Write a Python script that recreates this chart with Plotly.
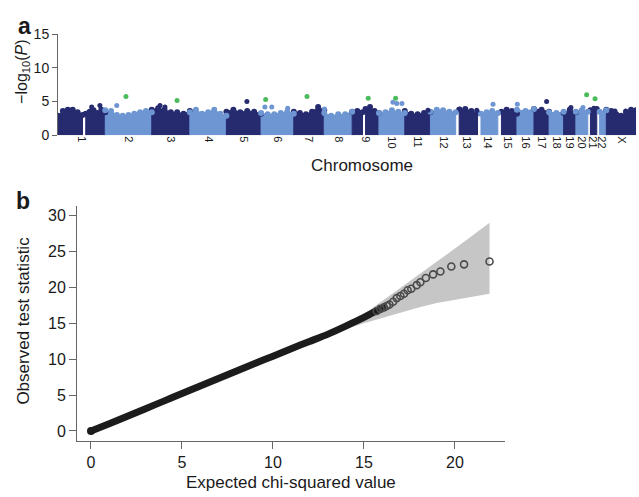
import plotly.graph_objects as go
import numpy as np

W, H = 639, 497
FONT = "Liberation Sans, Arial, Helvetica, sans-serif"

# ---------------- Panel a: Manhattan plot data ----------------
CHROMS = ["1", "2", "3", "4", "5", "6", "7", "8", "9", "10", "11", "12",
          "13", "14", "15", "16", "17", "18", "19", "20", "21", "22", "X"]
CHROM_LEN = [247, 243, 199, 191, 181, 171, 159, 146, 140, 135, 134, 132,
             114, 106, 100, 89, 79, 76, 64, 62, 47, 50, 155]  # Mb

# data segments (start, end in Mb within chromosome)
SEGMENTS = [
    [(0, 128), (145, 247)], [(0, 243)], [(0, 199)], [(0, 191)], [(0, 181)],
    [(0, 171)], [(0, 159)], [(0, 146)], [(0, 54), (70, 140)], [(0, 135)],
    [(0, 134)], [(0, 132)], [(18, 114)], [(18, 106)], [(19, 100)], [(0, 89)],
    [(0, 79)], [(0, 76)], [(0, 64)], [(0, 62)], [(14, 47)], [(15, 50)], [(0, 155)],
]
# upper envelope of the dense point cloud (-log10 P), evenly spaced per segment
ENVELOPES = [
    [[2.9, 3.6, 3.8, 3.8, 3.4, 3.0], [3.2, 3.5, 3.7, 3.3, 3.8, 3.4]],
    [[3.7, 3.6, 3.0, 2.9, 3.0, 3.2, 3.4, 3.6, 3.4]],
    [[3.8, 4.0, 3.8, 3.4, 3.4, 3.2, 3.6]],
    [[3.4, 3.8, 3.2, 3.4, 3.8, 3.2, 2.9]],
    [[3.5, 3.8, 3.4, 3.6, 3.5, 3.2]],
    [[3.3, 3.1, 3.1, 3.3, 3.5, 3.2]],
    [[3.5, 3.3, 3.1, 3.5, 4.2, 3.7]],
    [[3.3, 2.9, 3.1, 3.1, 3.5]],
    [[3.5, 3.6, 3.4], [3.9, 4.2, 3.6, 3.3]],
    [[3.3, 3.4, 3.7, 3.5, 3.3]],
    [[3.6, 3.2, 3.1, 3.3, 3.4]],
    [[3.5, 3.8, 3.7, 3.5, 3.4]],
    [[3.8, 3.9, 3.6, 3.3]],
    [[3.2, 3.4, 3.6, 3.3]],
    [[3.5, 3.8, 3.6, 3.2]],
    [[3.8, 3.6, 3.9]],
    [[3.9, 3.8, 3.5]],
    [[3.4, 3.3, 3.5]],
    [[3.3, 3.8, 3.4]],
    [[3.5, 3.7, 3.5]],
    [[3.7, 3.9]],
    [[3.5, 3.7]],
    [[3.8, 3.6, 3.1, 2.9, 3.4, 3.8, 3.7]],
]

# isolated points above the cloud
OUT_CHROM = ["1", "1", "2", "3", "3", "5", "6", "6", "6", "8", "10", "10", "10",
             "11", "13", "13", "14", "16", "17", "19", "20", "21", "X", "X"]
OUT_POS = [176, 219, 60, 43, 69, 107, 20, 56, 139, 1, 73, 93, 120,
           121, 22, 110, 81, 2, 66, 38, 37, 32, 45, 101]
OUT_LOGP = [4.2, 4.4, 4.4, 4.4, 4.2, 5.0, 4.2, 4.2, 4.0, 3.9, 4.9, 4.7, 4.7,
            3.7, 3.9, 3.7, 4.6, 4.6, 5.0, 4.1, 4.1, 4.0, 3.6, 3.6]

# highlighted (green) associations
HIT_CHROM = ["2", "3", "6", "7", "9", "10", "20", "21"]
HIT_POS = [108, 132, 24, 69, 84, 87, 56, 38]
HIT_LOGP = [5.75, 5.15, 5.3, 5.75, 5.5, 5.5, 6.0, 5.4]

# ---------------- Panel b: QQ plot data ----------------
QQ_LINE_EXP = [0, 1, 2, 3, 4, 5, 6, 7, 8, 9, 10, 11, 12, 13, 14, 15, 15.6, 16.2]
QQ_LINE_OBS = [0, 1.0, 2.05, 3.1, 4.15, 5.2, 6.25, 7.3, 8.35, 9.4, 10.4, 11.45,
               12.45, 13.45, 14.6, 15.8, 16.6, 17.3]
QQ_PT_EXP = [15.7, 15.9, 16.1, 16.25, 16.4, 16.6, 16.8, 17.0, 17.2, 17.4, 17.6,
             17.9, 18.1, 18.4, 18.8, 19.2, 19.8, 20.5, 21.9]
QQ_PT_OBS = [16.7, 17.0, 17.2, 17.4, 17.6, 18.0, 18.5, 18.8, 19.1, 19.6, 19.8,
             20.3, 20.7, 21.3, 21.8, 22.2, 22.9, 23.2, 23.6]
BAND_EXP = [12, 13, 14, 15, 16, 17, 18, 19, 20, 21, 21.9]
BAND_UPPER = [12.5, 13.8, 14.9, 16.3, 18.1, 19.9, 21.8, 23.6, 25.4, 27.3, 29.0]
BAND_LOWER = [11.9, 13.3, 14.2, 15.0, 15.8, 16.5, 17.2, 17.8, 18.3, 18.7, 19.1]

DARK = "#262a6f"
LIGHT = "#6e96d2"
GREEN = "#4cbb5c"

offsets = np.concatenate([[0], np.cumsum(CHROM_LEN)[:-1]])
mids = offsets + np.array(CHROM_LEN) / 2.0
chrom_off = dict(zip(CHROMS, offsets))
chrom_col = {c: (DARK if i % 2 == 0 else LIGHT) for i, c in enumerate(CHROMS)}

fig = go.Figure()

top_x = {DARK: [], LIGHT: []}
top_y = {DARK: [], LIGHT: []}
for i, c in enumerate(CHROMS):
    col = chrom_col[c]
    for (s, e), env in zip(SEGMENTS[i], ENVELOPES[i]):
        xs = np.linspace(s, e, len(env)) + offsets[i]
        px = [xs[0]] + list(xs) + [xs[-1]]
        py = [0] + list(env) + [0]
        fig.add_trace(go.Scatter(x=px, y=py, mode="lines", fill="toself",
                                 fillcolor=col, line=dict(color=col, width=1),
                                 hoverinfo="skip", showlegend=False,
                                 xaxis="x", yaxis="y"))
        top_x[col] += list(xs)
        top_y[col] += list(env)

for col in (DARK, LIGHT):
    fig.add_trace(go.Scatter(x=top_x[col], y=top_y[col], mode="markers",
                             marker=dict(color=col, size=6), showlegend=False,
                             xaxis="x", yaxis="y"))

ox = [chrom_off[c] + p for c, p in zip(OUT_CHROM, OUT_POS)]
ocol = [chrom_col[c] for c in OUT_CHROM]
fig.add_trace(go.Scatter(x=ox, y=OUT_LOGP, mode="markers",
                         marker=dict(color=ocol, size=5), showlegend=False,
                         xaxis="x", yaxis="y"))
hx = [chrom_off[c] + p for c, p in zip(HIT_CHROM, HIT_POS)]
fig.add_trace(go.Scatter(x=hx, y=HIT_LOGP, mode="markers",
                         marker=dict(color=GREEN, size=5), showlegend=False,
                         xaxis="x", yaxis="y"))

# ---- QQ ----
fig.add_trace(go.Scatter(x=BAND_EXP + BAND_EXP[::-1], y=BAND_UPPER + BAND_LOWER[::-1],
                         mode="lines", fill="toself", fillcolor="#c6c6c6",
                         line=dict(width=0, color="#c6c6c6"), showlegend=False,
                         xaxis="x2", yaxis="y2"))
fig.add_trace(go.Scatter(x=QQ_LINE_EXP, y=QQ_LINE_OBS, mode="lines",
                         line=dict(color="#1c1c1c", width=7, shape="spline",
                                   smoothing=0.6),
                         showlegend=False, xaxis="x2", yaxis="y2"))
fig.add_trace(go.Scatter(x=QQ_LINE_EXP[:1], y=QQ_LINE_OBS[:1], mode="markers",
                         marker=dict(color="#1c1c1c", size=8), showlegend=False,
                         xaxis="x2", yaxis="y2"))
fig.add_trace(go.Scatter(x=QQ_PT_EXP, y=QQ_PT_OBS, mode="markers",
                         marker=dict(symbol="circle-open", size=7, color="#4a4a4a",
                                     line=dict(width=1.6, color="#4a4a4a")),
                         showlegend=False, xaxis="x2", yaxis="y2"))


def fx(p):
    return p / W


def fy(p):
    return 1 - p / H


axis_common = dict(showgrid=False, zeroline=False, linecolor="#666666",
                   tickcolor="#666666", fixedrange=True)


def ann(text, x, y, size, angle=0):
    return dict(text=text, x=fx(x), y=fy(y), xref="paper", yref="paper",
                xanchor="center", yanchor="middle", showarrow=False,
                textangle=angle, font=dict(size=size, family=FONT, color="#1a1a1a"))


fig.update_layout(
    width=W, height=H, margin=dict(l=0, r=0, t=0, b=0),
    paper_bgcolor="white", plot_bgcolor="white",
    font=dict(family=FONT, color="#1a1a1a"),
    xaxis=dict(domain=[fx(58), fx(636)], range=[0, sum(CHROM_LEN)], anchor="y",
               tickmode="array", tickvals=list(mids), ticktext=CHROMS,
               tickangle=90, ticks="", showline=False,
               tickfont=dict(size=11, family=FONT), **axis_common),
    yaxis=dict(domain=[fy(131.5), fy(27)], range=[0, 15], anchor="x",
               tickmode="array", tickvals=[0, 5, 10, 15], ticks="outside",
               ticklen=5, showline=True, tickfont=dict(size=14, family=FONT),
               **axis_common),
    xaxis2=dict(domain=[fx(77), fx(505)], range=[-0.769, 22.75], anchor="y2",
                tickmode="array", tickvals=[0, 5, 10, 15, 20], ticks="outside",
                ticklen=7, showline=True, tickfont=dict(size=16, family=FONT),
                **axis_common),
    yaxis2=dict(domain=[fy(447), fy(205)], range=[-1.35, 31.27], anchor="x2",
                tickmode="array", tickvals=[0, 5, 10, 15, 20, 25, 30],
                ticks="outside", ticklen=7, showline=True,
                tickfont=dict(size=16, family=FONT), **axis_common),
    annotations=[
        ann("<b>a</b>", 24, 19, 23),
        ann("<b>b</b>", 23, 199, 23),
        ann("Chromosome", 362, 163, 17),
        ann("\u2212log<sub>10</sub>(<i>P</i>)", 23, 66, 16, -90),
        ann("Observed test statistic", 24, 323, 17, -90),
        ann("Expected chi-squared value", 291, 490, 17),
    ],
)

fig.write_html("out.html")
